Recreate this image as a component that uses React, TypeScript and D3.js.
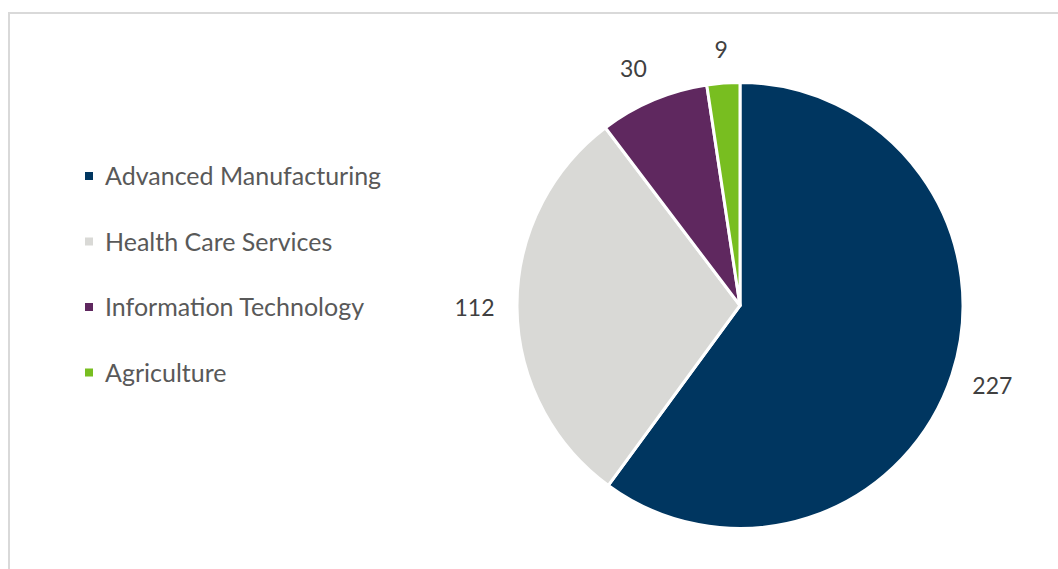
import React from "react";
import * as d3 from "d3";

const categories = ["Advanced Manufacturing", "Health Care Services", "Information Technology", "Agriculture"];
const values = [227, 112, 30, 9];
const colors = ["#003660", "#d9d9d6", "#5f285f", "#78be20"];

const W = 1058;
const H = 569;
const cx = 740;
const cy = 305.5;
const R = 223;
const labelFont = 23;
const legendFont = 25;

export default function App() {
  const pie = d3.pie<number>().sort(null).value((d) => d)(values);
  const arc = d3.arc<d3.PieArcDatum<number>>().innerRadius(0).outerRadius(R);
  const anchorR = 246;
  const legendY = d3.scaleLinear().domain([0, categories.length - 1]).range([176, 372.5]);

  return (
    <svg width={W} height={H} style={{ position: "absolute", left: 0, top: 0, background: "#fff" }}
      fontFamily="Lato, 'Open Sans', sans-serif">
      <rect x={9} y={13} width={W + 20} height={H + 20} fill="#fff" stroke="#d9d9d9" strokeWidth={2} />
      <g transform={`translate(${cx},${cy})`}>
        {pie.map((p, i) => (
          <path key={i} d={arc(p) || ""} fill={colors[i]} stroke="#fff" strokeWidth={3} strokeLinejoin="round" />
        ))}
        {pie.map((p, i) => {
          const a = (p.startAngle + p.endAngle) / 2;
          const s = Math.sin(a);
          const c = Math.cos(a);
          const w = String(values[i]).length * 13;
          const h = 22;
          const x = s * anchorR + (s * w) / 2 - (i === 2 ? 6 : 0);
          const y = -c * anchorR - (c * h) / 2;
          return (
            <text key={"l" + i} x={x} y={y + 8.3} textAnchor="middle" fontSize={labelFont} fill="#404040">
              {values[i]}
            </text>
          );
        })}
      </g>
      {categories.map((name, i) => (
        <g key={"lg" + i}>
          <rect x={85} y={legendY(i) - 4} width={8} height={8} fill={colors[i]} />
          <text x={105} y={legendY(i) + 9} fontSize={legendFont} fill="#595959">
            {name}
          </text>
        </g>
      ))}
    </svg>
  );
}
